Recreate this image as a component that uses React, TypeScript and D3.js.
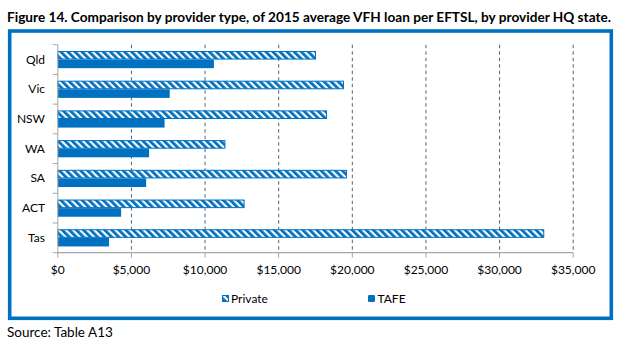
import React from "react";
import * as d3 from "d3";

const categories = ["Qld", "Vic", "NSW", "WA", "SA", "ACT", "Tas"];
const privateValues = [17500, 19400, 18250, 11350, 19600, 12650, 33000];
const tafeValues = [10600, 7600, 7250, 6200, 6000, 4300, 3480];
const seriesNames = ["Private", "TAFE"];
const xTicks = [0, 5000, 10000, 15000, 20000, 25000, 30000, 35000];
const title = "Figure 14. Comparison by provider type, of 2015 average VFH loan per EFTSL, by provider HQ state.";
const source = "Source: Table A13";

const W = 624;
const H = 356;
const BLUE = "#0070C0";
const FONT = "Lato, 'Open Sans', sans-serif";

export default function App() {
  const x = d3.scaleLinear().domain([0, 35000]).range([57.8, 573.2]);
  const y = d3.scaleBand<string>().domain(categories).range([44.7, 252.7]).paddingInner(0).paddingOuter(0);
  const bw = y.bandwidth();
  const barH = 8.6;
  const fmt = (v: number) => "$" + d3.format(",")(v);
  const top = 44.7;
  const bottom = 252.7;

  return (
    <svg width={W} height={H} style={{ position: "absolute", left: 0, top: 0, background: "#fff" }} fontFamily={FONT}>
      <defs>
        <pattern id="stripes" width={5} height={5} patternUnits="userSpaceOnUse" patternTransform="rotate(-45)">
          <rect width={5} height={5} fill="#fff" />
          <rect width={2.8} height={5} fill={BLUE} />
        </pattern>
      </defs>
      <rect width={W} height={H} fill="#fff" />
      <text x={7} y={22} fontSize={13.2} fontWeight="bold" fill="#000" textLength={604} lengthAdjust="spacingAndGlyphs">
        {title}
      </text>
      <rect x={9.7} y={31} width={601.6} height={287.3} fill="#fff" stroke={BLUE} strokeWidth={3.6} />

      {/* gridlines */}
      {xTicks.slice(1).map((t) => (
        <line key={"g" + t} x1={x(t)} x2={x(t)} y1={top} y2={bottom} stroke="#4a6585" strokeWidth={1} strokeDasharray="3.5,3" />
      ))}

      {/* bars */}
      {categories.map((c, i) => {
        const cy = (y(c) as number) + bw / 2;
        return (
          <g key={c}>
            <rect x={x(0)} y={cy - barH + 0.5} width={x(privateValues[i]) - x(0)} height={barH - 1} fill="url(#stripes)" stroke={BLUE} strokeWidth={1} />
            <rect x={x(0)} y={cy} width={x(tafeValues[i]) - x(0)} height={barH} fill={BLUE} />
          </g>
        );
      })}

      {/* axes */}
      <line x1={x(0)} x2={x(0)} y1={top} y2={bottom} stroke="#a6a6a6" strokeWidth={1} />
      <line x1={x(0)} x2={x(35000)} y1={bottom} y2={bottom} stroke="#a6a6a6" strokeWidth={1.2} />
      {categories.map((c) => (
        <line key={"ct" + c} x1={x(0) - 5} x2={x(0)} y1={y(c) as number} y2={y(c) as number} stroke="#a6a6a6" />
      ))}
      <line x1={x(0) - 5} x2={x(0)} y1={bottom} y2={bottom} stroke="#a6a6a6" />
      {xTicks.map((t) => (
        <line key={"xt" + t} x1={x(t)} x2={x(t)} y1={bottom} y2={bottom + 5} stroke="#a6a6a6" />
      ))}
      {xTicks.map((t) => (
        <text key={"xl" + t} x={x(t)} y={274} fontSize={12} textAnchor="middle" fill="#000">
          {fmt(t)}
        </text>
      ))}
      {categories.map((c) => (
        <text key={"cl" + c} x={45} y={(y(c) as number) + bw / 2 + 4} fontSize={12} textAnchor="end" fill="#000">
          {c}
        </text>
      ))}

      {/* legend */}
      <g>
        <rect x={222.5} y={295.5} width={6} height={6} fill="url(#stripes)" stroke={BLUE} strokeWidth={1} />
        <text x={231} y={302.5} fontSize={12} fill="#000">{seriesNames[0]}</text>
        <rect x={368} y={295} width={7} height={7} rx={1.2} fill={BLUE} />
        <text x={377.5} y={302.5} fontSize={12} fill="#000">{seriesNames[1]}</text>
      </g>

      <text x={7} y={337} fontSize={13.5} fill="#000">{source}</text>
    </svg>
  );
}
